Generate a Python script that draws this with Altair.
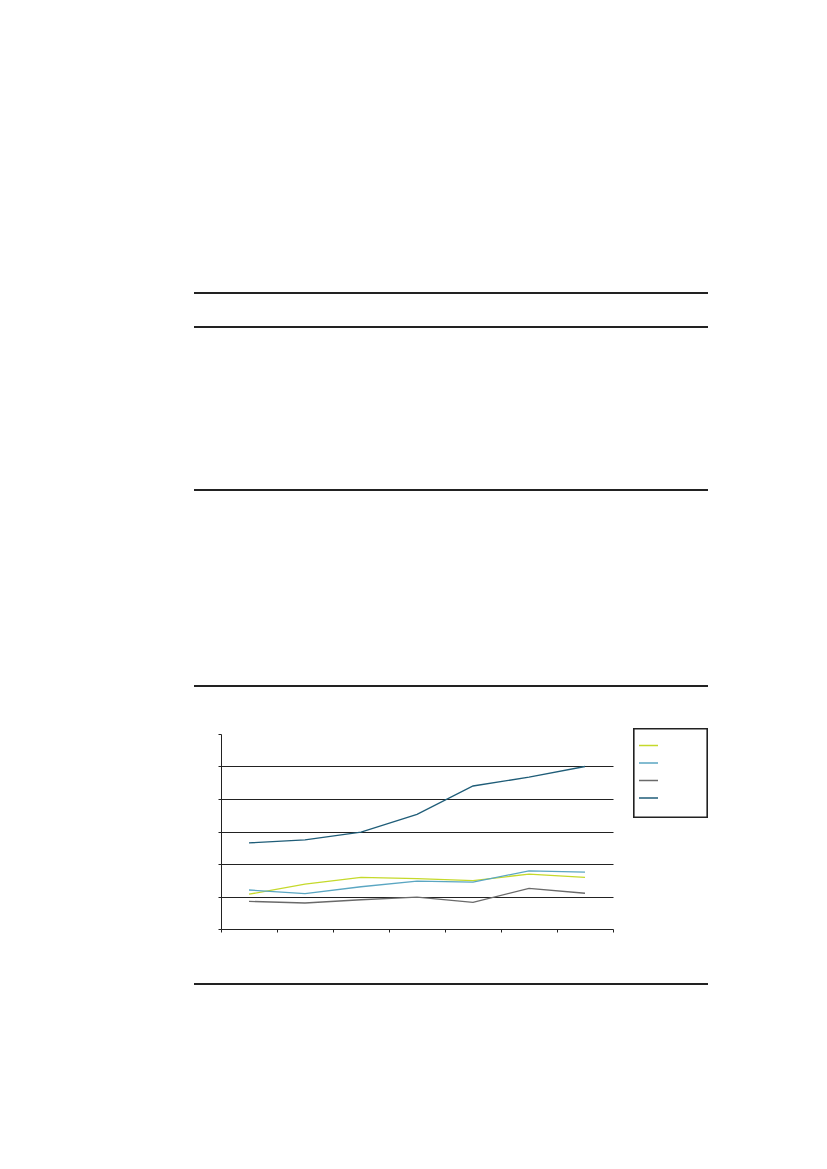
import altair as alt
import pandas as pd

# ---- data (no visible text in the original) ----
periods = [1, 2, 3, 4, 5, 6, 7]
series_names = ["Series 1", "Series 2", "Series 3", "Series 4"]
series_1 = [1.07, 1.38, 1.59, 1.55, 1.49, 1.69, 1.59]
series_2 = [1.20, 1.09, 1.30, 1.47, 1.44, 1.79, 1.75]
series_3 = [0.85, 0.80, 0.90, 0.98, 0.82, 1.25, 1.10]
series_4 = [2.65, 2.74, 2.98, 3.53, 4.40, 4.67, 5.00]
y_ticks = [0, 1, 2, 3, 4, 5, 6]
x_ticks = [0.5, 1.5, 2.5, 3.5, 4.5, 5.5, 6.5, 7.5]

colors = ["#c5d92b", "#5aa6c2", "#6a6a6a", "#1f5d78"]
INK = "#222222"

rows = []
for name, vals in zip(series_names, [series_1, series_2, series_3, series_4]):
    for p, v in zip(periods, vals):
        rows.append({"period": p, "series": name, "value": v})
df = pd.DataFrame(rows)

lines = alt.Chart(df).mark_line(strokeWidth=1.3).encode(
    x=alt.X(
        "period:Q",
        scale=alt.Scale(domain=[0.5, 7.5], nice=False, zero=False),
        axis=alt.Axis(values=x_ticks, labels=False, title=None, grid=False,
                      tickSize=3, tickColor=INK, domainColor=INK, domainWidth=1),
    ),
    y=alt.Y(
        "value:Q",
        scale=alt.Scale(domain=[0, 6], nice=False),
        axis=alt.Axis(values=y_ticks, labels=False, title=None, grid=True,
                      gridColor=INK, gridWidth=1.2,
                      gridOpacity={"condition": {"test": "datum.value >= 6 || datum.value <= 0", "value": 0}, "value": 1},
                      tickSize=3, tickColor=INK, domainColor=INK, domainWidth=1),
    ),
    color=alt.Color(
        "series:N",
        scale=alt.Scale(domain=series_names, range=colors),
        legend=alt.Legend(
            orient="none", legendX=411, legendY=-5, title=None,
            symbolType="stroke", symbolSize=361, symbolStrokeWidth=1.5,
            labelExpr="''", labelOffset=40, padding=6, rowPadding=1.5,
        ),
    ),
    detail="series:N",
)

# legend frame (box around the legend)
legend_box = alt.Chart(df).mark_rect(fill="white", stroke=INK, strokeWidth=1.2).encode(
    x=alt.value(413), x2=alt.value(486), y=alt.value(-5), y2=alt.value(83)
)

# decorative horizontal page rules (document table lines)
def page_rule(yv):
    return alt.Chart(df).mark_rule(color=INK, strokeWidth=1).encode(
        x=alt.value(-27), x2=alt.value(487), y=alt.value(yv)
    )

rules = [page_rule(v) for v in (-441, -407, -244, -48, 250)]

chart = alt.layer(legend_box, lines, *rules).properties(
    width=392,
    height=195,
    padding={"left": 213, "top": 726, "right": 200, "bottom": 80},
    autosize=alt.AutoSizeParams(type="none"),
    background="white",
).configure_view(stroke=None)

chart.save("out.html", embed_options={"renderer": "svg", "actions": False})
